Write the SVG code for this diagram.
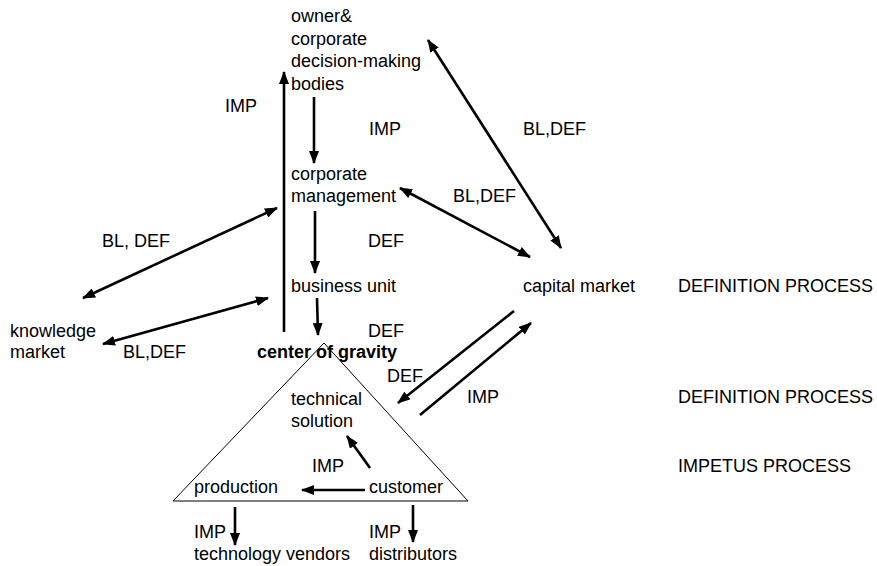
<svg xmlns="http://www.w3.org/2000/svg" width="877" height="566" viewBox="0 0 877 566">
<style>
text{font-family:"Liberation Sans",Arial,sans-serif;font-size:18px;fill:#000}
.b{font-weight:bold}
.c line{stroke:#000;stroke-width:2.6;fill:none}
.tri{fill:none;stroke:#000;stroke-width:1}
</style>
<defs>
<marker id="ah" viewBox="0 0 13 10" refX="12" refY="5" markerWidth="13" markerHeight="10" markerUnits="userSpaceOnUse" orient="auto-start-reverse">
<path d="M0,0 L13,5 L0,10 Z" fill="#000"/>
</marker>
</defs>
<rect width="877" height="566" fill="#fff"/>
<g id="owner"><text x="291" y="22">owner&amp;</text><text x="291" y="44.5">corporate</text><text x="291" y="67">decision-making</text><text x="291" y="89.5">bodies</text></g>
<g id="management"><text x="291" y="180">corporate</text><text x="291" y="202">management</text></g>
<g id="business"><text x="291" y="292">business unit</text></g>
<g id="capital"><text x="523" y="292">capital market</text></g>
<g id="knowledge"><text x="10" y="337">knowledge</text><text x="10" y="358">market</text></g>
<g id="center"><text class="b" x="257" y="358">center of gravity</text></g>
<g id="triangle"><polygon class="tri" points="324,343 173,501 468,501"/></g>
<g id="technical"><text x="291" y="405">technical</text><text x="291" y="427">solution</text></g>
<g id="production"><text x="194" y="493">production</text></g>
<g id="customer"><text x="369" y="493">customer</text></g>
<g id="vendors"><text x="194" y="560">technology vendors</text></g>
<g id="distributors"><text x="369" y="560">distributors</text></g>
<g id="processes"><text x="678" y="292">DEFINITION PROCESS</text><text x="678" y="403">DEFINITION PROCESS</text><text x="678" y="472">IMPETUS PROCESS</text></g>
<g id="connectors" class="c">
<line x1="284" y1="332" x2="284" y2="72" marker-end="url(#ah)"/>
<line x1="314" y1="97" x2="314" y2="163" marker-end="url(#ah)"/>
<line x1="315" y1="211" x2="315" y2="273" marker-end="url(#ah)"/>
<line x1="317" y1="298" x2="318" y2="335" marker-end="url(#ah)"/>
<line x1="83" y1="298" x2="277" y2="208" marker-start="url(#ah)" marker-end="url(#ah)"/>
<line x1="103" y1="344" x2="268" y2="298" marker-start="url(#ah)" marker-end="url(#ah)"/>
<line x1="428" y1="40" x2="561" y2="248" marker-start="url(#ah)" marker-end="url(#ah)"/>
<line x1="400" y1="188" x2="530" y2="257" marker-start="url(#ah)" marker-end="url(#ah)"/>
<line x1="514" y1="311" x2="398" y2="403" marker-end="url(#ah)"/>
<line x1="420" y1="415" x2="531" y2="323" marker-end="url(#ah)"/>
<line x1="370" y1="468" x2="347" y2="436" marker-end="url(#ah)"/>
<line x1="365" y1="490" x2="302" y2="490" marker-end="url(#ah)"/>
<line x1="235" y1="507" x2="235" y2="545" marker-end="url(#ah)"/>
<line x1="413" y1="505" x2="413" y2="542" marker-end="url(#ah)"/>
</g>
<g id="labels">
<text x="225" y="112">IMP</text>
<text x="369" y="135">IMP</text>
<text x="523" y="135">BL,DEF</text>
<text x="453" y="202">BL,DEF</text>
<text x="102" y="247">BL, DEF</text>
<text x="368" y="247">DEF</text>
<text x="368" y="337">DEF</text>
<text x="123" y="358">BL,DEF</text>
<text x="387" y="382">DEF</text>
<text x="467" y="403">IMP</text>
<text x="312" y="472">IMP</text>
<text x="194" y="538">IMP</text>
<text x="369" y="538">IMP</text>
</g>
</svg>
